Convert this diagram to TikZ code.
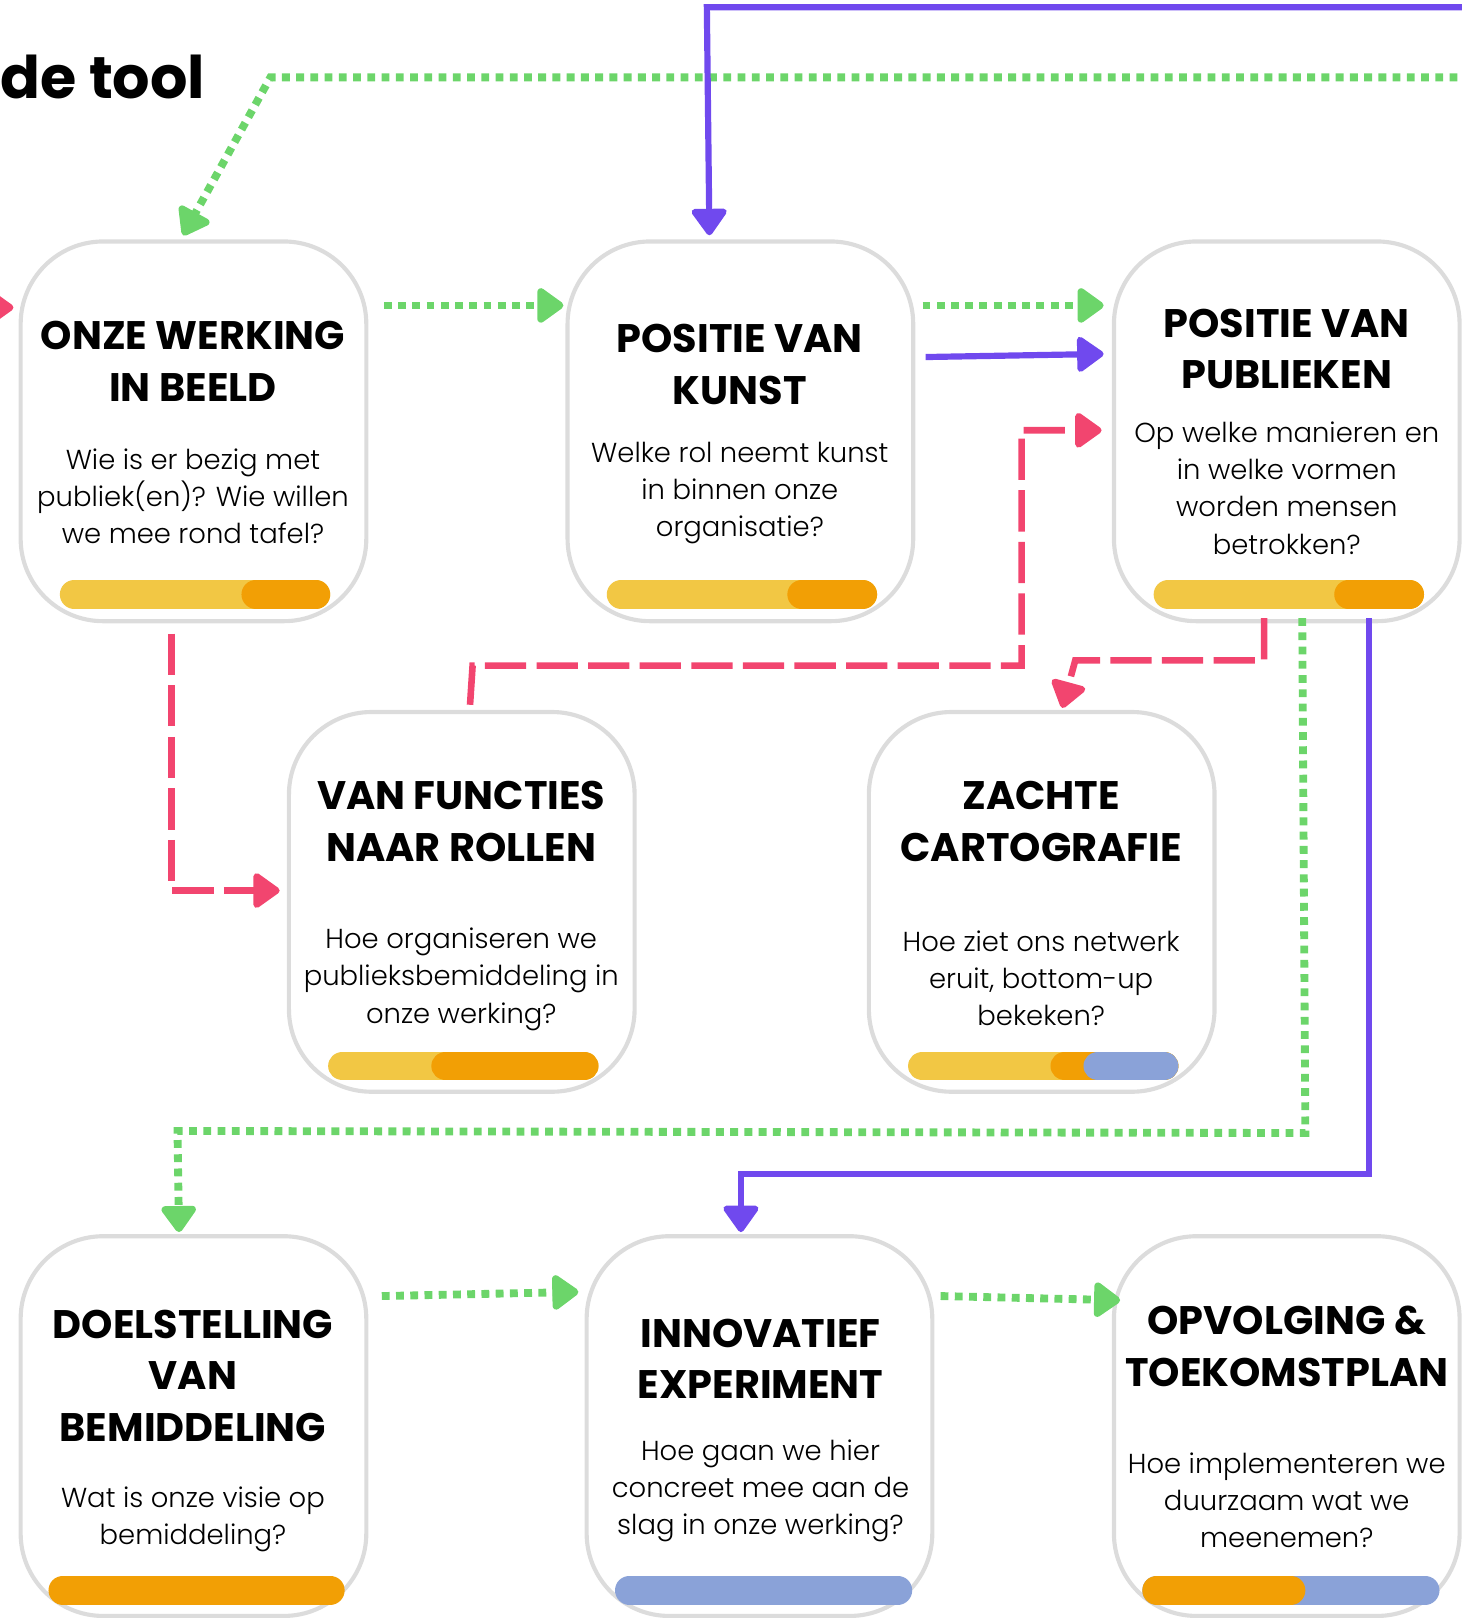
\documentclass[tikz,border=0pt]{standalone}
\usepackage{fontspec}
\setmainfont{Poppins}[UprightFont=* Light, BoldFont=* Bold]
\usetikzlibrary{arrows.meta,calc}
\definecolor{cardgray}{HTML}{DCDCDC}
\definecolor{flowgreen}{HTML}{6CD56A}
\definecolor{flowpurple}{HTML}{7049EE}
\definecolor{flowpink}{HTML}{F2456F}
\definecolor{baryellow}{HTML}{F2C744}
\definecolor{barorange}{HTML}{F29F05}
\definecolor{barblue}{HTML}{8AA2D8}
\tikzset{
  card/.style={draw=cardgray, line width=2pt, rounded corners=40pt, fill=white,
    minimum width=167.5pt, minimum height=184pt, inner sep=0pt},
  head/.style={font=\bfseries\fontsize{19.3}{25}\selectfont, align=center},
  ask/.style={font=\fontsize{13.3}{18}\selectfont, align=center},
  bar/.style={line width=14pt, line cap=round},
  tipflow/.style={-{Triangle[round, length=14pt, width=19pt]}},
  greenflow/.style={tipflow, draw=flowgreen, line width=3.8pt, dash pattern=on 3.8pt off 3.1pt},
  purpleflow/.style={tipflow, draw=flowpurple, line width=3pt},
  pinkflow/.style={tipflow, draw=flowpink, line width=3.2pt, dash pattern=on 20pt off 5pt}
}
\begin{document}
\begin{tikzpicture}[x=0.5pt, y=-0.5pt]
\useasboundingbox (0, 0) rectangle (1416, 1568);
\node[anchor=base west, font=\bfseries\fontsize{28.5}{34}\selectfont, inner sep=0pt] (tooltitle) at (0, 95) {de tool};
%Row 1
\node[card] (werking) at (187.5, 418) {};
\node[card] (kunst) at (717.5, 418) {};
\node[card] (publieken) at (1247, 418) {};
%Row 2
\node[card] (rollen) at (447.5, 874) {};
\node[card] (cartografie) at (1009.5, 874) {};
%Row 3
\node[card] (doelstelling) at (187.5, 1382) {};
\node[card] (experiment) at (736, 1382) {};
\node[card] (opvolging) at (1247, 1382) {};
%Titles and questions
\node[head] (werkingT) at (187, 350) {ONZE WERKING\\IN BEELD};
\node[ask] (werkingQ) at (187, 481) {Wie is er bezig met\\publiek(en)? Wie willen\\we mee rond tafel?};
\node[head] (kunstT) at (717, 353) {POSITIE VAN\\KUNST};
\node[ask] (kunstQ) at (717, 478) {Welke rol neemt kunst\\in binnen onze\\organisatie?};
\node[head] (publiekenT) at (1247, 338) {POSITIE VAN\\PUBLIEKEN};
\node[ask] (publiekenQ) at (1247, 473) {Op welke manieren en\\in welke vormen\\worden mensen\\betrokken?};
\node[head] (rollenT) at (447, 796) {VAN FUNCTIES\\NAAR ROLLEN};
\node[ask] (rollenQ) at (447, 949) {Hoe organiseren we\\publieksbemiddeling in\\onze werking?};
\node[head] (cartografieT) at (1009, 796) {ZACHTE\\CARTOGRAFIE};
\node[ask] (cartografieQ) at (1009, 948) {Hoe ziet ons netwerk\\eruit, bottom-up\\bekeken?};
\node[head] (doelstellingT) at (187, 1333) {DOELSTELLING\\VAN\\BEMIDDELING};
\node[ask] (doelstellingQ) at (187, 1472) {Wat is onze visie op\\bemiddeling?};
\node[head] (experimentT) at (737, 1317) {INNOVATIEF\\EXPERIMENT};
\node[ask] (experimentQ) at (737, 1445) {Hoe gaan we hier\\concreet mee aan de\\slag in onze werking?};
\node[head] (opvolgingT) at (1247, 1305) {OPVOLGING \&\\TOEKOMSTPLAN};
\node[ask] (opvolgingQ) at (1247, 1454) {Hoe implementeren we\\duurzaam wat we\\meenemen?};
%Progress bars
\draw[bar, baryellow] (72, 576) -- (306, 576);
\draw[bar, barorange] (248, 576) -- (306, 576);
\draw[bar, baryellow] (602, 576) -- (836, 576);
\draw[bar, barorange] (777, 576) -- (836, 576);
\draw[bar, baryellow] (1132, 576) -- (1366, 576);
\draw[bar, barorange] (1307, 576) -- (1366, 576);
\draw[bar, baryellow] (332, 1033) -- (566, 1033);
\draw[bar, barorange] (432, 1033) -- (566, 1033);
\draw[bar, baryellow] (894, 1033) -- (1128, 1033);
\draw[bar, barorange] (1032, 1033) -- (1128, 1033);
\draw[bar, barblue] (1064, 1033) -- (1128, 1033);
\draw[bar, barorange] (61, 1541) -- (320, 1541);
\draw[bar, barblue] (610, 1541) -- (870, 1541);
\draw[bar, barblue] (1121, 1541) -- (1381, 1541);
\draw[bar, barorange] (1121, 1541) -- (1251, 1541);
%Connectors
\coordinate (greenin) at (1440, 75);
\coordinate (purplein) at (1440, 7);
\coordinate (pinkin) at (-40, 298);
\draw[greenflow] (greenin) -- (262, 75) -- ($(werking.north)+(-10,-4)$);
\draw[purpleflow] (purplein) -- (685, 7) -- ($(kunst.north)+(-30,-4)$);
\draw[pinkflow] (pinkin) -- ($(werking.west)+(-5,-120)$);
\draw[greenflow] ($(werking.east)+(15,-122)$) -- ($(kunst.west)+(-2,-122)$);
\draw[greenflow] ($(kunst.east)+(7,-122)$) -- ($(publieken.west)+(-8,-122)$);
\draw[purpleflow] ($(kunst.east)+(10,-72)$) -- ($(publieken.west)+(-8,-75)$);
\draw[pinkflow] ($(rollen.north)+(8,-5)$) -- (458, 645) -- (990, 645) -- (990, 417) -- ($(publieken.west)+(-10,-1)$);
\draw[pinkflow] ($(werking.south)+(-21.5,10)$) |- ($(rollen.west)+(-7,-11)$);
\draw[pinkflow] ($(publieken.south)+(-22,-5)$) -- (1225, 640) -- (1042, 640) -- ($(cartografie.north)+(20,-2)$);
\draw[greenflow] ($(publieken.south)+(15,-5)$) -- (1265, 1098) -- (172, 1096) -- ($(doelstelling.north)+(-14,-2)$);
\draw[purpleflow] ($(publieken.south)+(80,-5)$) -- (1327, 1138) -- (718, 1138) -- ($(experiment.north)+(-18,-2)$);
\draw[greenflow] ($(doelstelling.east)+(13,-126)$) -- ($(experiment.west)+(-6,-130)$);
\draw[greenflow] ($(experiment.east)+(6,-126)$) -- ($(opvolging.west)+(8,-122)$);
\end{tikzpicture}
\end{document}
